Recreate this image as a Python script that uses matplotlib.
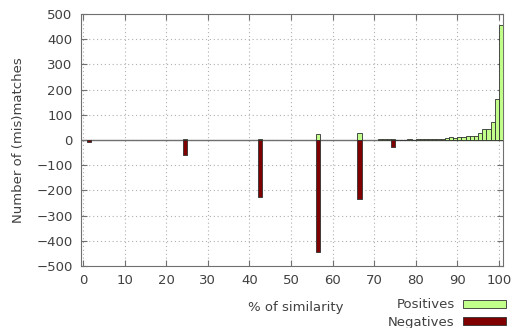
import numpy as np
import matplotlib
matplotlib.use('Agg')
import matplotlib.pyplot as plt
from matplotlib.patches import Patch

# % similarity bins (left edge of each box) and counts
pos_x = [24, 42, 56, 66, 71, 72, 73, 74, 75, 76, 77, 78, 79, 80, 81, 82, 83,
         84, 85, 86, 87, 88, 89, 90, 91, 92, 93, 94, 95, 96, 97, 98, 99, 100]
pos_y = [5, 5, 24, 27, 2, 2, 3, 5, 1, 1, 1, 2, 1, 3, 2, 2, 4,
         2, 3, 4, 8, 10, 8, 12, 13, 17, 14, 14, 26, 42, 45, 73, 162, 455]

neg_x = [1, 24, 42, 56, 66, 74]
neg_y = [-8, -58, -225, -443, -234, -28]

xticks = list(range(0, 101, 10))
yticks = list(range(-500, 501, 100))

txt = '#404040'
plt.rcParams['font.family'] = 'DejaVu Sans'
plt.rcParams['font.size'] = 9.5

fig = plt.figure(figsize=(5.12, 3.28), dpi=100)
ax = fig.add_axes([81/512, 1-266/328, (503-81)/512, (266-14)/328])

ax.bar(pos_x, pos_y, width=1, align='edge', color='#c1ff8a',
       edgecolor='#303030', linewidth=0.6, zorder=3)
ax.bar(neg_x, neg_y, width=1, align='edge', color='#800000',
       edgecolor='#303030', linewidth=0.6, zorder=3)
ax.axhline(0, color='#707070', linewidth=1.0, zorder=2)

ax.set_xlim(-0.5, 101)
ax.set_ylim(-500, 500)
ax.set_xticks(xticks)
ax.set_yticks(yticks)
ax.grid(True, linestyle=(0, (1, 2.5)), color='#b0b0b0', linewidth=0.8, zorder=0)
ax.tick_params(direction='in', length=4, color='#707070', labelcolor=txt,
               top=True, right=True, pad=6)
for s in ax.spines.values():
    s.set_color('#707070')

ax.set_xlabel('% of similarity', color=txt)
ax.xaxis.set_label_coords(0.51, -0.138)
ax.set_ylabel('Number of (mis)matches', color=txt, labelpad=8)

handles = [Patch(facecolor='#c1ff8a', edgecolor='#303030', linewidth=0.6),
           Patch(facecolor='#800000', edgecolor='#303030', linewidth=0.6)]
leg = fig.legend(handles, ['Positives', 'Negatives'], loc='lower right',
                 bbox_to_anchor=(1.012, -0.038), markerfirst=False, frameon=False,
                 handlelength=3.3, handleheight=0.6, labelspacing=0.32,
                 handletextpad=0.6)
for t in leg.get_texts():
    t.set_color(txt)

fig.savefig('out.png', dpi=100)
